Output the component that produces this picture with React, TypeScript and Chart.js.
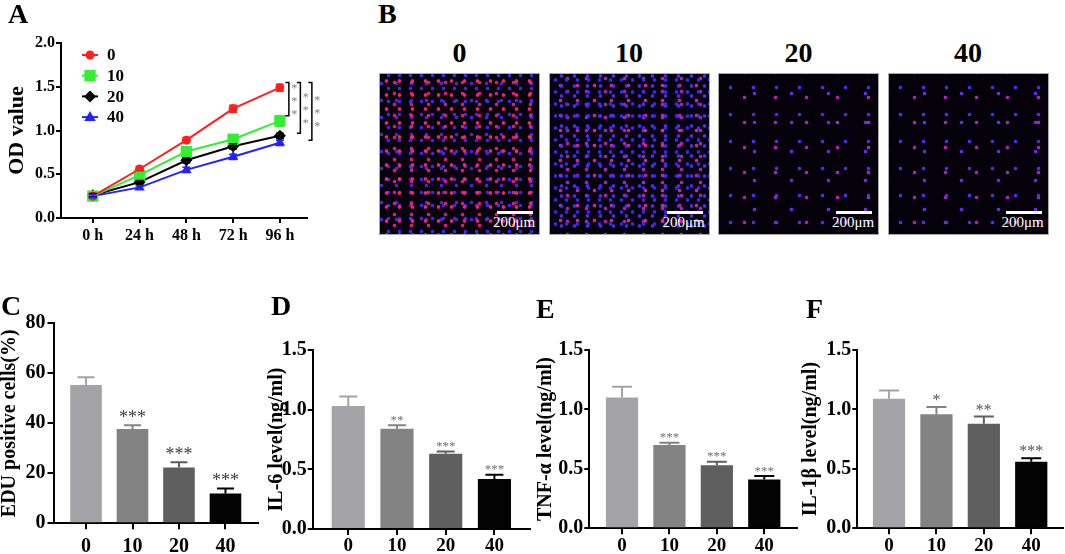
import React, { useEffect, useRef } from 'react';
import { Chart, registerables } from 'chart.js';

Chart.register(...registerables);

const SERIF = "'Liberation Serif', 'Times New Roman', Times, serif";

// ---- panel A: OD value over time ----
const timeLabels = ['0 h', '24 h', '48 h', '72 h', '96 h'];
const doseLabels = ['0', '10', '20', '40'];
const odTicks = [0, 0.5, 1.0, 1.5, 2.0];
const od0 = [0.25, 0.56, 0.89, 1.25, 1.49];
const od10 = [0.25, 0.49, 0.76, 0.9, 1.11];
const od20 = [0.26, 0.41, 0.66, 0.82, 0.94];
const od40 = [0.25, 0.35, 0.55, 0.7, 0.86];
const odErr0 = [0.02, 0.03, 0.03, 0.04, 0.04];
const odErr10 = [0.02, 0.03, 0.04, 0.04, 0.06];
const odErr20 = [0.02, 0.02, 0.03, 0.03, 0.03];
const odErr40 = [0.02, 0.02, 0.03, 0.03, 0.03];
const odBracketStars = ['***', '***', '***'];

// ---- panels C-F: bar charts ----
const eduTicks = [0, 20, 40, 60, 80];
const eduValues = [55.3, 37.7, 22.3, 11.9];
const eduErr = [3.1, 1.5, 2.1, 2.0];
const eduStars = ['', '***', '***', '***'];

const levelTicks = [0, 0.5, 1.0, 1.5];
const il6Values = [1.03, 0.84, 0.63, 0.42];
const il6Err = [0.08, 0.03, 0.02, 0.035];
const il6Stars = ['', '**', '***', '***'];

const tnfValues = [1.1, 0.7, 0.53, 0.41];
const tnfErr = [0.09, 0.02, 0.03, 0.03];
const tnfStars = ['', '***', '***', '***'];

const il1bValues = [1.09, 0.96, 0.88, 0.56];
const il1bErr = [0.07, 0.06, 0.06, 0.03];
const il1bStars = ['', '*', '**', '***'];

const barColors = ['#a4a3a8', '#838383', '#5f5f5f', '#030303'];

function drawMarker(ctx: CanvasRenderingContext2D, style: string, x: number, y: number, r: number) {
  ctx.beginPath();
  if (style === 'circle') {
    ctx.arc(x, y, r, 0, Math.PI * 2);
  } else if (style === 'rect') {
    const s = r * Math.SQRT1_2;
    ctx.rect(x - s, y - s, s * 2, s * 2);
  } else if (style === 'rectRot') {
    ctx.moveTo(x - r, y);
    ctx.lineTo(x, y - r);
    ctx.lineTo(x + r, y);
    ctx.lineTo(x, y + r);
    ctx.closePath();
  } else {
    ctx.moveTo(x, y - r);
    ctx.lineTo(x + r * 0.95, y + r * 0.65);
    ctx.lineTo(x - r * 0.95, y + r * 0.65);
    ctx.closePath();
  }
  ctx.fill();
}

const odExtras = {
  id: 'odExtras',
  afterDatasetsDraw(chart: any) {
    const { ctx, chartArea, scales } = chart;
    const x = scales.x;
    const y = scales.y;
    const errs = [odErr0, odErr10, odErr20, odErr40];
    ctx.save();

    // error bars
    chart.data.datasets.forEach((ds: any, di: number) => {
      ctx.strokeStyle = ds.borderColor;
      ctx.lineWidth = 1.5;
      ds.data.forEach((p: any, i: number) => {
        const px = x.getPixelForValue(p.x);
        const hi = y.getPixelForValue(p.y + errs[di][i]);
        const lo = y.getPixelForValue(p.y - errs[di][i]);
        ctx.beginPath();
        ctx.moveTo(px, hi);
        ctx.lineTo(px, lo);
        ctx.moveTo(px - 4, hi);
        ctx.lineTo(px + 4, hi);
        ctx.moveTo(px - 4, lo);
        ctx.lineTo(px + 4, lo);
        ctx.stroke();
      });
    });

    // legend
    ctx.font = `bold 17px ${SERIF}`;
    ctx.textAlign = 'left';
    ctx.textBaseline = 'middle';
    chart.data.datasets.forEach((ds: any, di: number) => {
      const cy = chartArea.top + 12 + di * 20.7;
      const cx = chartArea.left + 29;
      ctx.strokeStyle = ds.borderColor;
      ctx.lineWidth = 2;
      ctx.beginPath();
      ctx.moveTo(cx - 8, cy);
      ctx.lineTo(cx + 8, cy);
      ctx.stroke();
      ctx.fillStyle = ds.backgroundColor;
      drawMarker(ctx, ds.pointStyle, cx, cy, ds.pointRadius);
      ctx.fillStyle = '#000';
      ctx.fillText(ds.label, chartArea.left + 46, cy + 1);
    });

    // significance brackets at 96 h
    const last = timeLabels.length - 1;
    const baseX = x.getPixelForValue(last);
    const topY = y.getPixelForValue(od0[last] + odErr0[last] + 0.02);
    const others = [od10, od20, od40];
    const otherErr = [odErr10, odErr20, odErr40];
    others.forEach((vals, k) => {
      const bx = baseX + 9 + k * 11.5;
      const botY = y.getPixelForValue(vals[last] + otherErr[k][last]);
      ctx.strokeStyle = '#000';
      ctx.lineWidth = 1.5;
      ctx.beginPath();
      ctx.moveTo(bx - 3.5, topY);
      ctx.lineTo(bx, topY);
      ctx.lineTo(bx, botY);
      ctx.lineTo(bx - 3.5, botY);
      ctx.stroke();
      const stars = odBracketStars[k].split('');
      const mid = (topY + botY) / 2;
      ctx.fillStyle = '#808080';
      ctx.font = `12px ${SERIF}`;
      ctx.textAlign = 'center';
      ctx.textBaseline = 'alphabetic';
      stars.forEach((s, j) => {
        const cy = mid + (j - (stars.length - 1) / 2) * 13;
        ctx.fillText(s, bx + 5.5, cy + 0.48 * 12);
      });
    });
    ctx.restore();
  },
};

function OdChart() {
  const ref = useRef<HTMLCanvasElement>(null);
  useEffect(() => {
    if (!ref.current) return;
    const series = [
      { label: doseLabels[0], values: od0, color: '#ff1f1f', style: 'circle', radius: 4.5 },
      { label: doseLabels[1], values: od10, color: '#33ee33', style: 'rect', radius: 8 },
      { label: doseLabels[2], values: od20, color: '#000000', style: 'rectRot', radius: 6 },
      { label: doseLabels[3], values: od40, color: '#2222ff', style: 'triangle', radius: 6 },
    ];
    const chart = new Chart(ref.current, {
      type: 'line',
      data: {
        datasets: series.map((s) => ({
          label: s.label,
          data: s.values.map((v, i) => ({ x: i, y: v })),
          borderColor: s.color,
          backgroundColor: s.color,
          pointBackgroundColor: s.color,
          pointBorderColor: s.color,
          pointStyle: s.style,
          pointRadius: s.radius,
          pointBorderWidth: 0,
          borderWidth: 2,
          clip: false,
        })) as any,
      },
      options: {
        animation: false,
        responsive: true,
        maintainAspectRatio: false,
        layout: { padding: { left: 0, top: 43, right: 23, bottom: 0 } },
        plugins: { legend: { display: false }, tooltip: { enabled: false } },
        scales: {
          x: {
            type: 'linear',
            min: -0.68,
            max: 4.58,
            offset: false,
            afterBuildTicks: (s: any) => {
              s.ticks = timeLabels.map((_, i) => ({ value: i }));
            },
            afterFit: (s: any) => {
              s.height = 36;
            },
            ticks: {
              callback: (v: any) => timeLabels[v],
              font: { family: SERIF, size: 16, weight: 'bold' },
              color: '#000',
              padding: 3,
              maxRotation: 0,
            },
            grid: { drawOnChartArea: false, drawTicks: true, tickLength: 5, color: '#000', lineWidth: 2, offset: false },
            border: { color: '#000', width: 2 },
          },
          y: {
            min: 0,
            max: 2,
            afterBuildTicks: (s: any) => {
              s.ticks = odTicks.map((v) => ({ value: v }));
            },
            afterFit: (s: any) => {
              s.width = 61;
            },
            ticks: {
              callback: (v: any) => Number(v).toFixed(1),
              font: { family: SERIF, size: 16, weight: 'bold' },
              color: '#000',
              padding: 1,
            },
            grid: { drawOnChartArea: false, drawTicks: true, tickLength: 5, color: '#000', lineWidth: 2 },
            border: { color: '#000', width: 2 },
            title: {
              display: true,
              text: 'OD value',
              color: '#000',
              font: { family: SERIF, size: 22, weight: 'bold', lineHeight: 1 },
              padding: { top: 6.5, bottom: 0 },
            },
          },
        },
      } as any,
      plugins: [odExtras],
    });
    return () => chart.destroy();
  }, []);
  return (
    <div style={{ position: 'absolute', left: 0, top: 0, width: 330, height: 254 }}>
      <canvas ref={ref} />
    </div>
  );
}

type BarPanelProps = {
  left: number;
  top: number;
  width: number;
  height: number;
  axisWidth: number;
  padTop: number;
  padRight: number;
  xHeight: number;
  xMargin: number;
  values: number[];
  errors: number[];
  stars: string[];
  yTicks: number[];
  decimals: number;
  yTitle: string;
  titlePad: number;
  yTickFont: number;
  xTickFont: number;
  yTickLen: number;
  yTickPad: number;
  xTickPad: number;
  starSize: number;
  starColor: string;
  starGap: number;
  capWidth: number;
};

function BarPanel(p: BarPanelProps) {
  const ref = useRef<HTMLCanvasElement>(null);
  useEffect(() => {
    if (!ref.current) return;
    const extras = {
      id: 'barExtras',
      afterDatasetsDraw(chart: any) {
        const { ctx } = chart;
        const y = chart.scales.y;
        const meta = chart.getDatasetMeta(0);
        ctx.save();
        meta.data.forEach((bar: any, i: number) => {
          const top = y.getPixelForValue(p.values[i] + p.errors[i]);
          ctx.strokeStyle = barColors[i];
          ctx.lineWidth = 2;
          ctx.beginPath();
          ctx.moveTo(bar.x, bar.y);
          ctx.lineTo(bar.x, top);
          ctx.moveTo(bar.x - p.capWidth / 2, top);
          ctx.lineTo(bar.x + p.capWidth / 2, top);
          ctx.stroke();
          if (p.stars[i]) {
            ctx.fillStyle = p.starColor;
            ctx.font = `${p.starSize}px ${SERIF}`;
            ctx.textAlign = 'center';
            ctx.textBaseline = 'alphabetic';
            ctx.fillText(p.stars[i], bar.x, top - p.starGap + 0.48 * p.starSize);
          }
        });
        ctx.restore();
      },
    };
    const chart = new Chart(ref.current, {
      type: 'bar',
      data: {
        datasets: [
          {
            data: p.values.map((v, i) => ({ x: i, y: v })),
            backgroundColor: barColors,
            borderWidth: 0,
            barPercentage: 0.68,
            categoryPercentage: 1,
          },
        ] as any,
      },
      options: {
        animation: false,
        responsive: true,
        maintainAspectRatio: false,
        layout: { padding: { left: 0, top: p.padTop, right: p.padRight, bottom: 0 } },
        plugins: { legend: { display: false }, tooltip: { enabled: false } },
        scales: {
          x: {
            type: 'linear',
            min: -p.xMargin,
            max: doseLabels.length - 1 + p.xMargin,
            offset: false,
            afterBuildTicks: (s: any) => {
              s.ticks = doseLabels.map((_, i) => ({ value: i }));
            },
            afterFit: (s: any) => {
              s.height = p.xHeight;
            },
            ticks: {
              callback: (v: any) => doseLabels[v],
              font: { family: SERIF, size: p.xTickFont, weight: 'bold' },
              color: '#000',
              padding: p.xTickPad,
              maxRotation: 0,
            },
            grid: { drawOnChartArea: false, drawTicks: true, tickLength: 6, color: '#000', lineWidth: 2, offset: false },
            border: { color: '#000', width: 2 },
          },
          y: {
            min: 0,
            max: p.yTicks[p.yTicks.length - 1],
            afterBuildTicks: (s: any) => {
              s.ticks = p.yTicks.map((v) => ({ value: v }));
            },
            afterFit: (s: any) => {
              s.width = p.axisWidth;
            },
            ticks: {
              callback: (v: any) => Number(v).toFixed(p.decimals),
              font: { family: SERIF, size: p.yTickFont, weight: 'bold' },
              color: '#000',
              padding: p.yTickPad,
            },
            grid: { drawOnChartArea: false, drawTicks: true, tickLength: p.yTickLen, color: '#000', lineWidth: 2 },
            border: { color: '#000', width: 2 },
            title: {
              display: true,
              text: p.yTitle,
              color: '#000',
              font: { family: SERIF, size: 20, weight: 'bold', lineHeight: 1 },
              padding: { top: p.titlePad, bottom: 0 },
            },
          },
        },
      } as any,
      plugins: [extras],
    });
    return () => chart.destroy();
  }, []);
  return (
    <div style={{ position: 'absolute', left: p.left, top: p.top, width: p.width, height: p.height }}>
      <canvas ref={ref} />
    </div>
  );
}

// fluorescence panels: layered dot grids of different pitch give an irregular-looking field
const dot = (color: string, pos: string, size: string) =>
  `radial-gradient(circle, ${color} 0 1.4px, transparent 2.2px) ${pos} / ${size}`;
const denseRed = [
  dot('rgba(255,40,105,0.95)', '0 0', '13px 14px'),
  dot('rgba(240,30,120,0.9)', '6px 3px', '17px 11px'),
  dot('rgba(70,40,255,0.9)', '3px 8px', '11px 13px'),
  dot('rgba(90,40,240,0.85)', '9px 1px', '15px 17px'),
].join(', ') + ', #08020f';
const denseBlue = [
  dot('rgba(60,40,255,0.95)', '0 0', '11px 12px'),
  dot('rgba(80,50,255,0.9)', '5px 7px', '13px 10px'),
  dot('rgba(230,40,160,0.9)', '2px 4px', '17px 15px'),
  dot('rgba(200,40,200,0.85)', '8px 11px', '19px 13px'),
].join(', ') + ', #07020f';
const sparse = [
  dot('rgba(80,45,255,0.95)', '0 0', '23px 27px'),
  dot('rgba(200,40,200,0.85)', '10px 11px', '31px 25px'),
  dot('rgba(110,50,255,0.9)', '17px 5px', '37px 29px'),
].join(', ') + ', #05010b';
const micrographBackgrounds = [denseRed, denseBlue, sparse, sparse];

function Micrographs() {
  return (
    <>
      {doseLabels.map((d, i) => {
        const left = 379 + i * 169.5;
        return (
          <React.Fragment key={d}>
            <div
              style={{
                position: 'absolute',
                left,
                top: 38.5,
                width: 161,
                textAlign: 'center',
                fontFamily: SERIF,
                fontWeight: 'bold',
                fontSize: 28,
                lineHeight: 1,
              }}
            >
              {d}
            </div>
            <div
              style={{
                position: 'absolute',
                left,
                top: 73,
                width: 161,
                height: 162,
                boxSizing: 'border-box',
                border: '1px solid #a8a8a8',
                background: micrographBackgrounds[i],
              }}
            >
              <div style={{ position: 'absolute', left: 117, top: 137, width: 36, height: 3, background: '#fff' }} />
              <div
                style={{
                  position: 'absolute',
                  left: 113,
                  top: 141,
                  fontFamily: SERIF,
                  fontSize: 15,
                  lineHeight: 1,
                  color: '#fff',
                }}
              >
                200μm
              </div>
            </div>
          </React.Fragment>
        );
      })}
    </>
  );
}

function Letter({ text, left, top }: { text: string; left: number; top: number }) {
  return (
    <div
      style={{
        position: 'absolute',
        left,
        top,
        fontFamily: SERIF,
        fontWeight: 'bold',
        fontSize: 28,
        lineHeight: 1,
        color: '#000',
      }}
    >
      {text}
    </div>
  );
}

export default function App() {
  useEffect(() => {
    document.body.style.margin = '0';
  }, []);
  return (
    <div style={{ position: 'absolute', left: 0, top: 0, width: 1065, height: 554, background: '#fff', overflow: 'hidden' }}>
      <OdChart />
      <Micrographs />
      <BarPanel
        left={0} top={290} width={265} height={264}
        axisWidth={53.5} padTop={33.3} padRight={7} xHeight={30.7} xMargin={0.7}
        values={eduValues} errors={eduErr} stars={eduStars}
        yTicks={eduTicks} decimals={0} yTitle="EDU positive cells(%)" titlePad={0}
        yTickFont={20} xTickFont={20} yTickLen={6} yTickPad={2} xTickPad={6}
        starSize={18} starColor="#3c3c3c" starGap={11} capWidth={17}
      />
      <BarPanel
        left={265} top={290} width={270} height={264}
        axisWidth={47.7} padTop={60} padRight={5} xHeight={25} xMargin={0.73}
        values={il6Values} errors={il6Err} stars={il6Stars}
        yTicks={levelTicks} decimals={1} yTitle="IL-6 level(ng/ml)" titlePad={2}
        yTickFont={20} xTickFont={19} yTickLen={5} yTickPad={1} xTickPad={0}
        starSize={13} starColor="#707070" starGap={7.7} capWidth={18}
      />
      <BarPanel
        left={535} top={290} width={265} height={264}
        axisWidth={54.3} padTop={60} padRight={3} xHeight={25.7} xMargin={0.69}
        values={tnfValues} errors={tnfErr} stars={tnfStars}
        yTicks={levelTicks} decimals={1} yTitle="TNF-α level(ng/ml)" titlePad={1}
        yTickFont={20} xTickFont={19} yTickLen={5} yTickPad={1} xTickPad={0}
        starSize={13} starColor="#707070" starGap={7.7} capWidth={20}
      />
      <BarPanel
        left={800} top={290} width={265} height={264}
        axisWidth={57.3} padTop={60} padRight={2} xHeight={25.7} xMargin={0.67}
        values={il1bValues} errors={il1bErr} stars={il1bStars}
        yTicks={levelTicks} decimals={1} yTitle="IL-1β level(ng/ml)" titlePad={1}
        yTickFont={20} xTickFont={19} yTickLen={5} yTickPad={1} xTickPad={0}
        starSize={16} starColor="#555555" starGap={9.5} capWidth={20}
      />
      <Letter text="A" left={8} top={0} />
      <Letter text="B" left={378} top={0} />
      <Letter text="C" left={1} top={292} />
      <Letter text="D" left={271} top={292} />
      <Letter text="E" left={536} top={295} />
      <Letter text="F" left={806} top={295} />
    </div>
  );
}
